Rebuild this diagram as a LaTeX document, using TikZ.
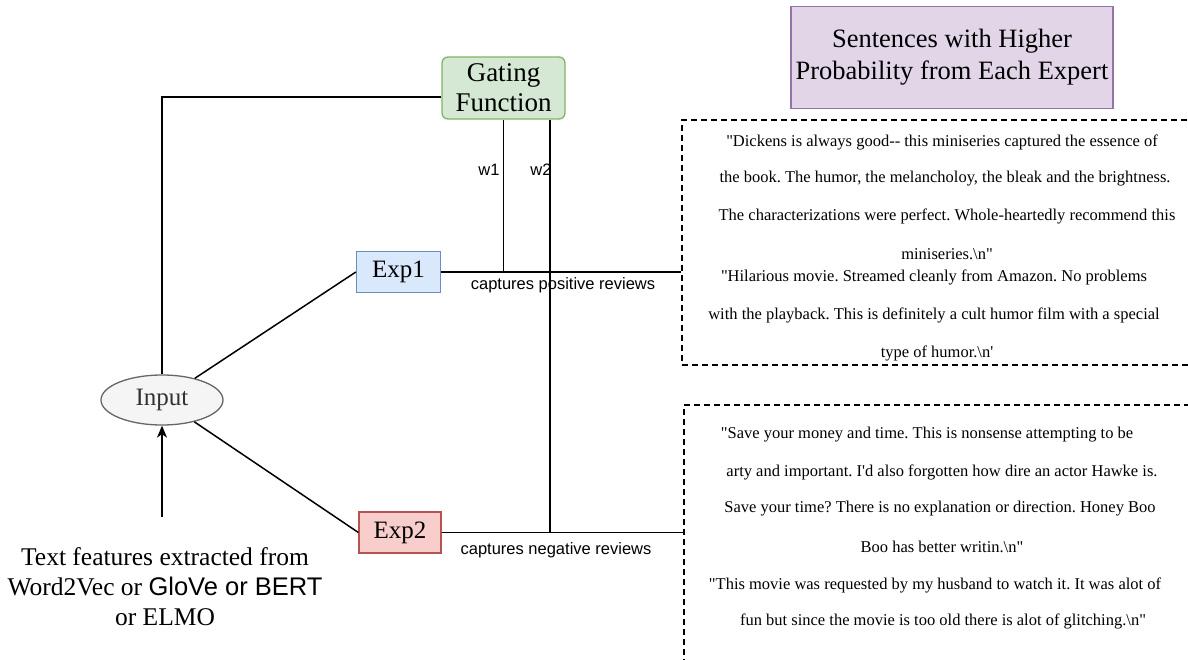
\documentclass[tikz,border=0pt]{standalone}
\usepackage{fontspec}
\setmainfont{Liberation Serif}[Ligatures=TeXOff]
\newfontfamily\helv{Liberation Sans}[Ligatures=TeXOff]
\usetikzlibrary{arrows.meta,shapes.geometric}
\definecolor{gateF}{HTML}{D5E8D4}
\definecolor{gateS}{HTML}{82B366}
\definecolor{blueF}{HTML}{DAE8FC}
\definecolor{blueS}{HTML}{6C8EBF}
\definecolor{redF}{HTML}{F8CECC}
\definecolor{redS}{HTML}{B85450}
\definecolor{grayF}{HTML}{F5F5F5}
\definecolor{grayS}{HTML}{666666}
\definecolor{grayT}{HTML}{333333}
\definecolor{purpF}{HTML}{E1D5E7}
\definecolor{purpS}{HTML}{9673A6}
\frenchspacing
\begin{document}
\begin{tikzpicture}[x=1pt,y=-1pt,
  bigtext/.style={font=\fontsize{25.5}{30}\selectfont},
  boxbase/.style={line width=1.3pt, align=center, inner sep=0pt, font=\fontsize{25}{30}\selectfont},
  gatebox/.style={boxbase, draw=gateS, fill=gateF, rounded corners=6pt, minimum width=123pt, minimum height=62pt, font=\fontsize{27}{30}\selectfont},
  exp1box/.style={boxbase, draw=blueS, fill=blueF, minimum width=84pt, minimum height=41pt},
  exp2box/.style={boxbase, draw=redS, fill=redF, minimum width=82pt, minimum height=41pt},
  inbox/.style={boxbase, ellipse, draw=grayS, fill=grayF, text=grayT, minimum width=122pt, minimum height=50pt},
  titlebox/.style={boxbase, draw=purpS, fill=purpF, minimum width=322pt, minimum height=102pt, font=\fontsize{26.5}{32}\selectfont},
  dbox/.style={draw, line width=1.6pt, dash pattern=on 6pt off 4pt, anchor=north west, inner sep=0pt},
  conn/.style={draw, line width=1.5pt},
  lbl/.style={font=\helv\fontsize{16.5}{18}\selectfont, inner sep=0pt},
  rev/.style={font=\fontsize{16.5}{19}\selectfont, inner sep=0pt}
]
\useasboundingbox (0,0) rectangle (1188,660);

% main nodes
\node[gatebox] (gate) at (503.5,88) {Gating\\Function};
\node[exp1box] (exp1) at (398.5,272) {Exp1};
\node[exp2box] (exp2) at (400,532.5) {Exp2};
\node[inbox] (input) at (162,400) {Input};
\node[titlebox] (title) at (952,57.5) {Sentences with Higher\\Probability from Each Expert};
\node[dbox, minimum width=530pt, minimum height=245pt] (box1) at (681,119) {};
\node[dbox, minimum width=530pt, minimum height=256pt] (box2) at (683,404) {};
\coordinate (src) at (162,517);
\node[bigtext, align=center, inner sep=0pt] (feat) at (165,587)
  {Text features extracted from\\Word2Vec or {\helv GloVe or BERT}\\or ELMO};

% connectors
\draw[conn] ([yshift=-9pt]gate.west) -| (input.north);
\draw[conn] (gate.south) -- (gate.south |- exp1.east);
\draw[conn] ([xshift=46.5pt]gate.south) -- ([xshift=46.5pt]gate.south |- exp2.east);
\draw[conn] (exp1.east) -- (exp1.east -| box1.west);
\draw[conn] (exp2.east) -- (exp2.east -| box2.west);
\draw[conn] (input) -- (exp1.west);
\draw[conn] (input) -- (exp2.west);
\draw[conn, -{Stealth[length=12pt,width=10pt,inset=3.5pt]}] (src) -- (input.south);

% labels
\node[lbl] (lw1) at (489,170) {w1};
\node[lbl] (lw2) at (541,170) {w2};
\node[lbl] (lpos) at (563,285) {captures positive reviews};
\node[lbl] (lneg) at (556,550) {captures negative reviews};

% review sentences box 1
\node[rev] (r11) at (942,142) {"Dickens is always good-- this miniseries captured the essence of};
\node[rev] (r12) at (945,179) {the book. The humor, the melancholoy, the bleak and the brightness.};
\node[rev] (r13) at (947,216) {The characterizations were perfect. Whole-heartedly recommend this};
\node[rev] (r14) at (947,254) {miniseries.\textbackslash n"};
\node[rev] (r21) at (934,277) {"Hilarious movie. Streamed cleanly from Amazon. No problems};
\node[rev] (r22) at (934,315) {with the playback. This is definitely a cult humor film with a special};
\node[rev] (r23) at (937,353) {type of humor.\textbackslash n'};

% review sentences box 2
\node[rev] (s11) at (927,435) {"Save your money and time. This is nonsense attempting to be};
\node[rev] (s12) at (942,472) {arty and important. I'd also forgotten how dire an actor Hawke is.};
\node[rev] (s13) at (940,509) {Save your time? There is no explanation or direction. Honey Boo};
\node[rev] (s14) at (942,547) {Boo has better writin.\textbackslash n"};
\node[rev] (s21) at (935,585) {"This movie was requested by my husband to watch it. It was alot of};
\node[rev] (s22) at (943,621) {fun but since the movie is too old there is alot of glitching.\textbackslash n"};
\end{tikzpicture}
\end{document}
